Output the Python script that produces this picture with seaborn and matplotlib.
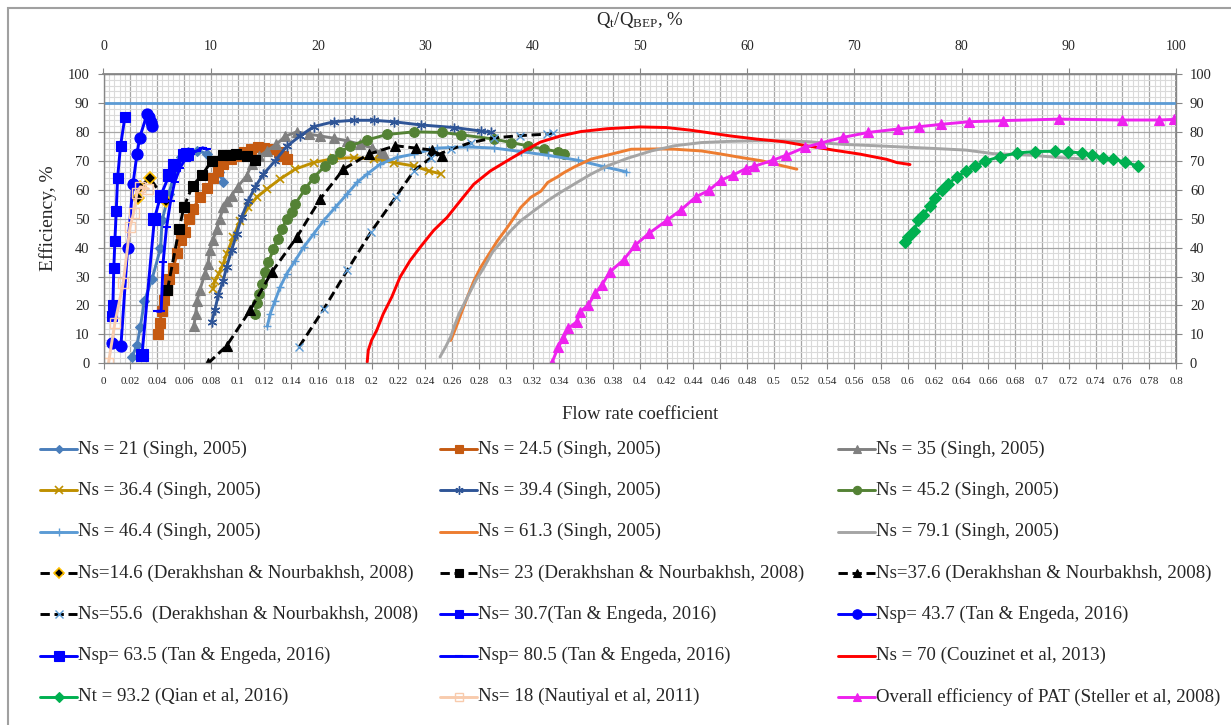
import matplotlib
matplotlib.use("Agg")
import matplotlib.pyplot as plt
import seaborn as sns
from matplotlib.lines import Line2D
from matplotlib.patches import Rectangle
from matplotlib.ticker import MultipleLocator, FuncFormatter

# ---------------- data: flow rate coefficient vs efficiency (%) ----------------
ns21_q = [0.0213, 0.025, 0.0275, 0.0305, 0.0363, 0.0425, 0.0437, 0.0488, 0.0537, 0.0575, 0.063, 0.070, 0.077, 0.082, 0.086, 0.0895]
ns21_eff = [2.3, 6.3, 12.6, 21.6, 29.3, 39.7, 49.4, 58.6, 67.2, 71.3, 73, 73.5, 72.5, 70, 66, 62.5]

ns245_q = [0.0405, 0.042, 0.0435, 0.045, 0.047, 0.0487, 0.052, 0.055, 0.0575, 0.0605, 0.0635, 0.067, 0.072, 0.0775, 0.082, 0.0855, 0.089, 0.095, 0.100, 0.105, 0.110, 0.115, 0.120, 0.126, 0.131, 0.134, 0.137]
ns245_eff = [10, 14, 18, 22, 25.5, 29, 33, 38, 42.5, 45.5, 50, 53.5, 57.5, 60.5, 64, 66.5, 69, 70.5, 71.5, 73, 74, 74.6, 74.5, 74, 73, 71.7, 70.5]

ns35_q = [0.0674, 0.0688, 0.0698, 0.0718, 0.0756, 0.0779, 0.0793, 0.0816, 0.0843, 0.0868, 0.0893, 0.092, 0.0955, 0.100, 0.1068, 0.1105, 0.116, 0.1218, 0.129, 0.1355, 0.1442, 0.153, 0.1617, 0.1717, 0.1817, 0.1916, 0.2003, 0.2066, 0.209]
ns35_eff = [13, 17, 21.7, 25.2, 30.9, 34.4, 39, 42.5, 46.4, 49.9, 54, 56, 58, 61, 64.8, 68.8, 71.5, 73.4, 75.7, 78.5, 80, 79.2, 78.6, 77.8, 76.9, 75.7, 74.4, 72.8, 72.3]

ns364_q = [0.0818, 0.083, 0.086, 0.089, 0.0918, 0.0968, 0.1018, 0.108, 0.1143, 0.1218, 0.1317, 0.143, 0.1567, 0.1717, 0.1866, 0.2016, 0.2165, 0.2315, 0.2427, 0.2515]
ns364_eff = [25.7, 28.6, 31, 34, 37.8, 43.6, 49.3, 53.9, 57.4, 60.2, 63.7, 67.1, 69.4, 70.8, 71.1, 70.6, 69.4, 68.2, 66.5, 65.5]

ns394_q = [0.0806, 0.0831, 0.0856, 0.0893, 0.0918, 0.0955, 0.0993, 0.103, 0.108, 0.113, 0.1193, 0.128, 0.1367, 0.1467, 0.1567, 0.1717, 0.1866, 0.2016, 0.2165, 0.2365, 0.2614, 0.2814, 0.2889]
ns394_eff = [14.3, 18.4, 23.6, 28.6, 33.2, 39, 44.7, 50.5, 56.2, 60.9, 65.4, 70, 75, 78.6, 81.8, 83.5, 84, 84, 83.5, 82.4, 81.5, 80.3, 79.8]

ns452_q = [0.113, 0.1143, 0.1163, 0.1181, 0.1206, 0.123, 0.1268, 0.1298, 0.133, 0.1367, 0.1405, 0.143, 0.1504, 0.1567, 0.1654, 0.1704, 0.1766, 0.1841, 0.1966, 0.2115, 0.2315, 0.2527, 0.2664, 0.2914, 0.3039, 0.3164, 0.3288, 0.3388, 0.3438]
ns452_eff = [17.1, 20.7, 24, 27.5, 31.6, 34.9, 39.5, 43, 46.4, 49.9, 52.2, 55.1, 60.2, 64.2, 68.3, 70.6, 72.9, 75.2, 77.2, 79.1, 80, 79.8, 79, 77.5, 76.3, 75.2, 74, 73.2, 72.5]

ns464_q = [0.1222, 0.1243, 0.128, 0.1318, 0.1367, 0.143, 0.1492, 0.1567, 0.1642, 0.1729, 0.1817, 0.1891, 0.1966, 0.2066, 0.2191, 0.2315, 0.2427, 0.249, 0.2714, 0.2914, 0.3113, 0.3313, 0.3537, 0.3737, 0.39]
ns464_eff = [12.8, 17, 21.7, 26.4, 31, 35.5, 40.1, 44.7, 49.3, 53.9, 58.5, 62.5, 65.4, 68.9, 71.2, 72.3, 73.7, 74.4, 74.8, 74.4, 73.2, 71.9, 70.2, 67.9, 66.2]

ns613_q = [0.259, 0.2614, 0.264, 0.2677, 0.2714, 0.2764, 0.2814, 0.2876, 0.2939, 0.3013, 0.3063, 0.3113, 0.3188, 0.3263, 0.3313, 0.3388, 0.3438, 0.3513, 0.3637, 0.3762, 0.3936, 0.4136, 0.4261, 0.446, 0.461, 0.476, 0.491, 0.5034, 0.5172]
ns613_eff = [7.9, 10.6, 13.7, 18.3, 22.9, 28.6, 33.2, 37.8, 42.4, 47, 50.4, 53.9, 57.4, 59.5, 62.5, 64.5, 66, 67.9, 70.6, 72, 74, 74.1, 74, 73.4, 72.3, 71.1, 70, 68.6, 67.1]

ns791_q = [0.251, 0.2552, 0.259, 0.2614, 0.2652, 0.269, 0.2727, 0.2777, 0.2839, 0.2901, 0.2964, 0.3039, 0.3113, 0.3213, 0.3313, 0.3388, 0.3513, 0.3637, 0.3762, 0.3911, 0.4086, 0.4261, 0.446, 0.466, 0.486, 0.5059, 0.5259, 0.5508, 0.5757, 0.6182, 0.6432, 0.6632, 0.693, 0.713, 0.733]
ns791_eff = [2.2, 5.7, 9.2, 12.5, 17.1, 20.6, 24, 28.6, 33.2, 38.4, 41.8, 45.9, 49.3, 52.8, 56.2, 58.5, 62, 65.4, 68.3, 70.9, 73.4, 75.2, 76.3, 76.7, 76.9, 76.9, 76.6, 75.7, 75.2, 74.3, 73.7, 72.5, 71.9, 71.1, 70.6]

ns146_q = [0.0255, 0.0275, 0.0345, 0.0464]
ns146_eff = [57, 61, 64.2, 56]

ns23_q = [0.0477, 0.0564, 0.0599, 0.0664, 0.0738, 0.0806, 0.0888, 0.0943, 0.0987, 0.1068, 0.113]
ns23_eff = [25.4, 46.4, 53.9, 61.4, 65.2, 70, 72, 72.1, 72.4, 71.7, 70.2]

ns376_q = [0.078, 0.0918, 0.1093, 0.1255, 0.1442, 0.1617, 0.179, 0.1978, 0.2178, 0.2328, 0.2452, 0.2527]
ns376_eff = [0, 6, 18.3, 31.5, 43.6, 56.8, 67.1, 72.3, 75.2, 74.4, 73.7, 71.7]

ns556_q = [0.1458, 0.1645, 0.182, 0.1994, 0.218, 0.2317, 0.2444, 0.2592, 0.274, 0.2911, 0.3106, 0.3306, 0.335]
ns556_eff = [5.6, 18.9, 32.3, 45.3, 57.5, 66.6, 71.1, 74, 76.3, 77.9, 78.7, 79.2, 79.5]

ns307_q = [0.0065, 0.007, 0.0077, 0.0085, 0.0095, 0.0105, 0.0127, 0.016]
ns307_eff = [16.2, 20.2, 33, 42.4, 52.5, 64, 75.2, 85.2]

nsp437_q = [0.0065, 0.013, 0.018, 0.022, 0.025, 0.027, 0.0325, 0.034, 0.0355, 0.036]
nsp437_eff = [7, 6, 40, 62, 72.5, 78, 86.2, 85, 83.5, 82]

nsp635_q = [0.0287, 0.038, 0.0427, 0.049, 0.0526, 0.060, 0.0623]
nsp635_eff = [2.8, 50, 58, 65, 68.5, 72, 72.5]

nsp805_q = [0.040, 0.043, 0.0445, 0.047, 0.050, 0.053, 0.057, 0.061, 0.065, 0.070, 0.074, 0.077]
nsp805_eff = [18, 18, 35, 47, 56, 62.5, 67.5, 70.5, 72.5, 73.5, 74.5, 74]

ns70_q = [0.1967, 0.1975, 0.2, 0.2038, 0.2087, 0.215, 0.2212, 0.2287, 0.2362, 0.2462, 0.2562, 0.2662, 0.2762, 0.2886, 0.3011, 0.3136, 0.3261, 0.341, 0.356, 0.3759, 0.4, 0.42, 0.4375, 0.45, 0.4674, 0.4872, 0.5071, 0.5245, 0.5444, 0.5643, 0.5842, 0.5917, 0.6016]
ns70_eff = [0.4, 4.5, 8, 11.4, 17.1, 22.9, 29.8, 35.5, 40.1, 45.9, 50.4, 56.2, 61.9, 66.5, 70, 73.4, 76.5, 78.6, 80.1, 81.1, 81.7, 81.5, 80.6, 79.8, 78.6, 77.5, 76.6, 75.2, 73.7, 72.3, 70.5, 69.4, 68.7]

nt932_q = [0.5978, 0.6003, 0.6048, 0.6078, 0.6115, 0.6165, 0.6202, 0.6252, 0.6302, 0.6364, 0.6434, 0.6501, 0.6575, 0.6687, 0.6811, 0.695, 0.7098, 0.7197, 0.7297, 0.737, 0.7453, 0.7532, 0.762, 0.7719]
nt932_eff = [41.9, 43.7, 45.9, 49.4, 51.4, 54.3, 57.3, 59.8, 62.1, 64.4, 66.4, 68.1, 69.9, 71.4, 72.7, 73.2, 73.3, 73.1, 72.7, 71.9, 71.1, 70.5, 69.6, 68.1]

ns18_q = [0.0037, 0.0085, 0.0147, 0.0197, 0.0225, 0.025, 0.0275, 0.0335]
ns18_eff = [0, 14, 27.7, 47, 52, 59, 61, 60.3]

pat_q = [0.3343, 0.3393, 0.3431, 0.3468, 0.3531, 0.3555, 0.3617, 0.3668, 0.3717, 0.378, 0.388, 0.3968, 0.4068, 0.4205, 0.4305, 0.4417, 0.4517, 0.4605, 0.4692, 0.4792, 0.4855, 0.4992, 0.5092, 0.5229, 0.5355, 0.5517, 0.5704, 0.5929, 0.6086, 0.6248, 0.6457, 0.6712, 0.713, 0.7595, 0.7876, 0.7987]
pat_eff = [0, 5.7, 8.6, 12.1, 14.4, 17.8, 20.2, 24.2, 27.1, 31.7, 35.8, 40.9, 44.9, 49.5, 52.9, 57.5, 59.8, 63.3, 65, 67.3, 68.1, 70.2, 71.9, 74.6, 76.2, 78.1, 79.8, 81, 81.8, 82.6, 83.5, 83.9, 84.4, 84.1, 84.1, 84.3]

labels = [
    "Ns = 21 (Singh, 2005)", "Ns = 24.5 (Singh, 2005)", "Ns = 35 (Singh, 2005)",
    "Ns = 36.4 (Singh, 2005)", "Ns = 39.4 (Singh, 2005)", "Ns = 45.2 (Singh, 2005)",
    "Ns = 46.4 (Singh, 2005)", "Ns = 61.3 (Singh, 2005)", "Ns = 79.1 (Singh, 2005)",
    "Ns=14.6 (Derakhshan & Nourbakhsh, 2008)", "Ns= 23 (Derakhshan & Nourbakhsh, 2008)",
    "Ns=37.6 (Derakhshan & Nourbakhsh, 2008)",
    "Ns=55.6  (Derakhshan & Nourbakhsh, 2008)", "Ns= 30.7(Tan & Engeda, 2016)",
    "Nsp= 43.7 (Tan & Engeda, 2016)",
    "Nsp= 63.5 (Tan & Engeda, 2016)", "Nsp= 80.5 (Tan & Engeda, 2016)",
    "Ns = 70 (Couzinet et al, 2013)",
    "Nt = 93.2 (Qian et al, 2016)", "Ns= 18 (Nautiyal et al, 2011)",
    "Overall efficiency of PAT (Steller et al, 2008)",
]
series = [
    (ns21_q, ns21_eff), (ns245_q, ns245_eff), (ns35_q, ns35_eff),
    (ns364_q, ns364_eff), (ns394_q, ns394_eff), (ns452_q, ns452_eff),
    (ns464_q, ns464_eff), (ns613_q, ns613_eff), (ns791_q, ns791_eff),
    (ns146_q, ns146_eff), (ns23_q, ns23_eff), (ns376_q, ns376_eff),
    (ns556_q, ns556_eff), (ns307_q, ns307_eff), (nsp437_q, nsp437_eff),
    (nsp635_q, nsp635_eff), (nsp805_q, nsp805_eff), (ns70_q, ns70_eff),
    (nt932_q, nt932_eff), (ns18_q, ns18_eff), (pat_q, pat_eff),
]

# ---------------- styles ----------------
DASH = (0, (3.2, 1.6))
ASTER = (6, 2, 0)
styles = [
    dict(color="#4A7EBB", marker="D", ms=5),
    dict(color="#C55A11", marker="s", ms=6.5),
    dict(color="#808080", marker="^", ms=6.5),
    dict(color="#BF9000", marker="x", ms=6, mew=1.2),
    dict(color="#2F5597", marker=ASTER, ms=7, mew=1.0),
    dict(color="#548235", marker="o", ms=7),
    dict(color="#5B9BD5", marker="+", ms=6, mew=1.0),
    dict(color="#ED7D31", marker=None),
    dict(color="#A5A5A5", marker=None),
    dict(color="black", marker="D", ms=6, ls=DASH, mfc="black", mec="#FFC000", mew=1.2),
    dict(color="black", marker="s", ms=7.5, ls=DASH),
    dict(color="black", marker="^", ms=7.5, ls=DASH),
    dict(color="black", marker="x", ms=6, ls=DASH, mec="#5B9BD5", mfc="#5B9BD5", mew=1.0),
    dict(color="#0000FF", marker="s", ms=7),
    dict(color="#0000FF", marker="o", ms=8),
    dict(color="#0000FF", marker="s", ms=8),
    dict(color="#0000FF", marker="_", ms=6, mew=1.5),
    dict(color="#FF0000", marker=None),
    dict(color="#00B050", marker="D", ms=6.5),
    dict(color="#F8CBAD", marker="s", ms=7, mfc="none", mew=1.0),
    dict(color="#EE22EE", marker="^", ms=7),
]

SERIF = ["Liberation Serif", "DejaVu Serif"]
sns.set_theme(style="white")
plt.rcParams["font.family"] = SERIF
plt.rcParams["mathtext.fontset"] = "custom"
plt.rcParams["mathtext.rm"] = "Liberation Serif"
plt.rcParams["mathtext.it"] = "Liberation Serif:italic"

W, H = 1231, 725
fig = plt.figure(figsize=(W / 100, H / 100), dpi=100)
fig.patch.set_facecolor("white")
ax = fig.add_axes([103.5 / W, 1 - 363.3 / H, (1176 - 103.5) / W, (363.3 - 74) / H])

LW = 2.1
for (q, eff), st in zip(series, styles):
    kw = dict(color=st["color"], linewidth=LW, linestyle=st.get("ls", "-"))
    if st["marker"] is not None:
        kw.update(marker=st["marker"], markersize=st["ms"],
                  markerfacecolor=st.get("mfc", st["color"]),
                  markeredgecolor=st.get("mec", st["color"]),
                  markeredgewidth=st.get("mew", 0.8))
    sns.lineplot(x=q, y=eff, ax=ax, sort=False, estimator=None, errorbar=None,
                 legend=False, **kw)

# reference line at 90 %
ax.axhline(90, color="#5B9BD5", lw=2.0, zorder=1.5)

ax.set_xlim(0, 0.8)
ax.set_ylim(0, 100)
ax.xaxis.set_major_locator(MultipleLocator(0.02))
ax.xaxis.set_minor_locator(MultipleLocator(0.004))
ax.yaxis.set_major_locator(MultipleLocator(10))
ax.yaxis.set_minor_locator(MultipleLocator(2))
ax.xaxis.set_major_formatter(FuncFormatter(lambda v, p: "0" if abs(v) < 1e-9 else f"{v:.2f}".rstrip("0").rstrip(".")))
ax.grid(which="minor", color="#DADADA", lw=0.8)
ax.grid(which="major", color="#A6A6A6", lw=0.9)
ax.set_axisbelow(True)
for s in ax.spines.values():
    s.set_color("#868686")
    s.set_linewidth(1.0)
ax.tick_params(which="minor", length=0)
ax.tick_params(axis="x", which="major", direction="out", length=4, width=0.8, color="#868686",
               labelsize=8, pad=6, bottom=True)
ax.tick_params(axis="y", which="major", direction="out", length=4, width=0.8, color="#868686",
               labelsize=10.5, pad=6, left=True)
ax.set_xlabel("Flow rate coefficient", fontsize=13.5, labelpad=14)
ax.set_ylabel("Efficiency, %", fontsize=14, labelpad=8)

# top axis: share of best-efficiency flow
top = ax.secondary_xaxis("top", functions=(lambda x: x * 125.0, lambda p: p / 125.0))
top.set_xticks(range(0, 101, 10))
top.tick_params(direction="out", length=4, width=0.8, color="#868686", labelsize=10, pad=11)
top.spines["top"].set_color("#868686")
top.set_xlabel(r"$\mathrm{Q_t/Q_{BEP}}$, %", fontsize=13.5, labelpad=11)

# right axis mirrors efficiency
right = ax.secondary_yaxis("right")
right.set_yticks(range(0, 101, 10))
right.tick_params(direction="out", length=4, width=0.8, color="#868686", labelsize=10.5, pad=6)
right.spines["right"].set_color("#868686")

# ---------------- legend (three columns, row-major) ----------------
col_x = [40, 440, 838]
row_y0, row_dy = 449, 41.3
for i, (lab, st) in enumerate(zip(labels, styles)):
    r, c = divmod(i, 3)
    x0 = col_x[c]
    y = 1 - (row_y0 + r * row_dy) / H
    xs = [x0 / W, (x0 + 18.5) / W, (x0 + 37) / W]
    ln = Line2D(xs, [y, y, y], transform=fig.transFigure, color=st["color"], lw=LW,
                linestyle=st.get("ls", "-"))
    if st["marker"] is not None:
        ln.set_marker(st["marker"])
        ln.set_markevery([1])
        ln.set_markersize(st["ms"] * 0.85)
        ln.set_markerfacecolor(st.get("mfc", st["color"]))
        ln.set_markeredgecolor(st.get("mec", st["color"]))
        ln.set_markeredgewidth(st.get("mew", 0.8))
    fig.add_artist(ln)
    fig.text((x0 + 38) / W, y, lab, fontsize=13.6, va="center", ha="left")

# outer chart frame
fig.add_artist(Rectangle((8 / W, -0.02), 1.05, (H - 8) / H + 0.02, transform=fig.transFigure,
                         fill=False, edgecolor="#A0A0A0", lw=1.5, clip_on=False))

fig.savefig("out.png", dpi=100, facecolor="white")
